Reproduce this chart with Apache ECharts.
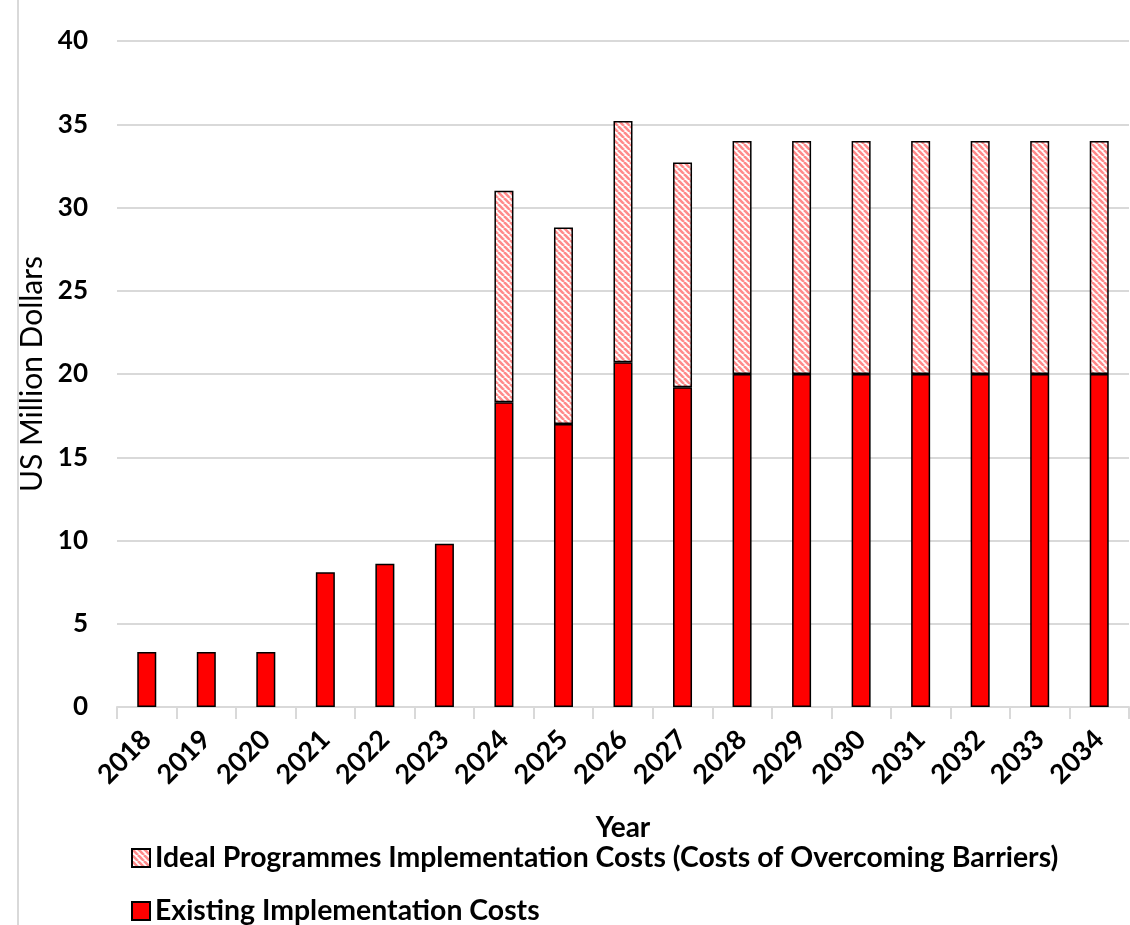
<!DOCTYPE html>
<html>
<head>
<meta charset="utf-8">
<script src="https://cdn.jsdelivr.net/npm/echarts@6/dist/echarts.min.js"></script>
<style>
html,body{margin:0;padding:0;background:#fff;}
#chart{width:1130px;height:925px;}
</style>
</head>
<body>
<div id="chart"></div>
<script>
const years = ['2018','2019','2020','2021','2022','2023','2024','2025','2026','2027','2028','2029','2030','2031','2032','2033','2034'];
const existingCosts = [3.3,3.3,3.3,8.1,8.6,9.8,18.3,17.0,20.7,19.2,20.0,20.0,20.0,20.0,20.0,20.0,20.0];
const idealExtraCosts = [0,0,0,0,0,0,12.7,11.8,14.5,13.5,14.0,14.0,14.0,14.0,14.0,14.0,14.0];
const yTicks = [0,5,10,15,20,25,30,35,40];
const seriesNames = ['Existing Implementation Costs','Ideal Programmes Implementation Costs (Costs of Overcoming Barriers)'];

function makeHatch(){
  const s = 6;
  const c = document.createElement('canvas');
  c.width = s; c.height = s;
  const g = c.getContext('2d');
  g.fillStyle = '#ffffff';
  g.fillRect(0,0,s,s);
  g.strokeStyle = 'rgba(255,60,60,0.6)';
  g.lineWidth = 2.6;
  for (let k=-1;k<=1;k++){
    g.beginPath();
    g.moveTo(k*s, 0);
    g.lineTo(k*s + s, s);
    g.stroke();
  }
  return c;
}

const chart = echarts.init(document.getElementById('chart'));
const font = 'Lato';
const legendText = {fontFamily:font,fontWeight:'bold',fontSize:28.4,color:'#000'};
chart.setOption({
  animation:false,
  backgroundColor:'#fff',
  textStyle:{fontFamily:font},
  graphic:[{type:'line',shape:{x1:18,y1:0,x2:18,y2:925},style:{stroke:'#d9d9d9',lineWidth:2}}],
  grid:{left:117,right:1,top:41,bottom:218},
  legend:[
    {data:[seriesNames[1]],icon:'rect',left:131,top:844,itemWidth:18,itemHeight:18,itemGap:6,textStyle:legendText,padding:0},
    {data:[seriesNames[0]],icon:'rect',left:131,top:897,itemWidth:18,itemHeight:18,itemGap:6,textStyle:legendText,padding:0}
  ],
  xAxis:{
    type:'category',data:years,
    name:'Year',nameLocation:'middle',nameGap:107,
    nameTextStyle:{fontFamily:font,fontWeight:'bold',fontSize:28,color:'#000'},
    axisLine:{lineStyle:{color:'#d9d9d9',width:2}},
    axisTick:{show:true,length:12,lineStyle:{color:'#d9d9d9',width:2}},
    axisLabel:{rotate:45,interval:0,margin:28,fontFamily:font,fontWeight:'bold',fontSize:27,color:'#000'}
  },
  yAxis:{
    type:'value',min:yTicks[0],max:yTicks[yTicks.length-1],interval:5,
    name:'US Million Dollars',nameLocation:'middle',nameGap:62,
    nameTextStyle:{fontFamily:font,fontSize:30,color:'#000'},
    axisLine:{show:false},axisTick:{show:false},
    splitLine:{lineStyle:{color:'#d9d9d9',width:2}},
    axisLabel:{margin:29,fontFamily:font,fontWeight:'bold',fontSize:26,color:'#000'}
  },
  series:[
    {name:seriesNames[0],type:'bar',stack:'t',data:existingCosts,barWidth:19,
     itemStyle:{color:'#ff0000',borderColor:'#000',borderWidth:1.5}},
    {name:seriesNames[1],type:'bar',stack:'t',data:idealExtraCosts.map(v=>v===0?null:v),barWidth:19,
     itemStyle:{color:{image:makeHatch(),repeat:'repeat'},borderColor:'#000',borderWidth:1.5}}
  ]
});
</script>
</body>
</html>
